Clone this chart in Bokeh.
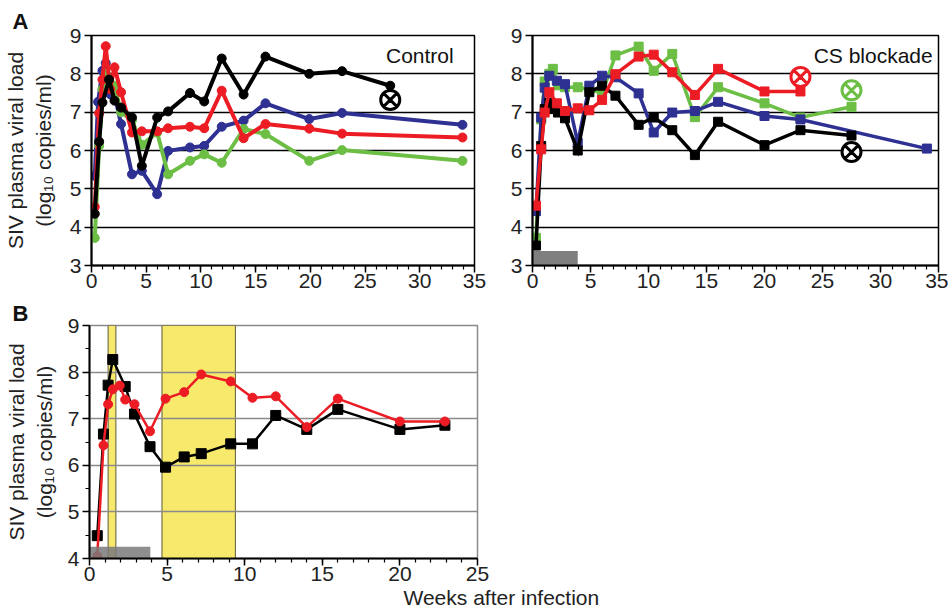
import numpy as np
from bokeh.plotting import figure
from bokeh.layouts import column, row
from bokeh.models import FixedTicker, Label, Range1d, Title
from bokeh.embed import file_html
from bokeh.resources import INLINE

FONT = "Liberation Sans"
RED = "#ec1c24"
BLUE = "#2e3192"
GREEN = "#6cbe45"
BLACK = "#000000"

# ---------------- Panel A, Control (weeks, log10 copies/ml) ----------------
ctrl_black_x = [0.3, 0.7, 1.0, 1.6, 2.1, 2.7, 3.7, 4.6, 6.0, 7.0, 9.0, 10.3, 11.9, 13.9, 15.9, 19.9, 22.9, 27.3]
ctrl_black_y = [4.35, 6.23, 7.25, 7.85, 7.3, 7.12, 6.86, 5.6, 6.86, 7.02, 7.5, 7.28, 8.4, 7.46, 8.45, 8.0, 8.07, 7.69]
ctrl_red_x = [0.3, 0.7, 1.0, 1.3, 1.7, 2.1, 2.7, 3.7, 4.6, 6.0, 7.0, 9.0, 10.3, 11.9, 13.9, 15.9, 19.9, 22.9, 33.9]
ctrl_red_y = [4.53, 6.97, 7.85, 8.72, 7.6, 8.17, 7.52, 6.47, 6.5, 6.5, 6.58, 6.62, 6.58, 7.56, 6.32, 6.69, 6.57, 6.44, 6.34]
ctrl_blue_x = [0.3, 0.6, 1.0, 1.3, 1.7, 2.1, 2.7, 3.7, 4.6, 6.0, 7.0, 9.0, 10.3, 11.9, 13.9, 15.9, 19.9, 22.9, 33.9]
ctrl_blue_y = [5.34, 7.27, 8.08, 8.28, 7.47, 7.46, 6.69, 5.38, 5.47, 4.86, 5.99, 6.08, 6.12, 6.62, 6.78, 7.23, 6.82, 6.98, 6.67]
ctrl_green_x = [0.3, 0.7, 1.0, 1.3, 1.7, 2.1, 2.7, 3.7, 4.6, 6.0, 7.0, 9.0, 10.3, 11.9, 13.9, 15.9, 19.9, 22.9, 33.9]
ctrl_green_y = [3.72, 6.12, 7.6, 8.01, 7.74, 7.69, 7.0, 6.79, 6.15, 6.47, 5.38, 5.73, 5.9, 5.68, 6.56, 6.43, 5.73, 6.01, 5.73]
ctrl_end_x = [27.3]
ctrl_end_y = [7.32]

# ---------------- Panel A, CS blockade ----------------
cs_black_x = [0.3, 0.75, 1.05, 1.45, 1.75, 2.2, 2.8, 3.9, 4.9, 6.0, 7.15, 9.15, 10.45, 12.05, 14.0, 16.0, 20.0, 23.1, 27.5]
cs_black_y = [3.52, 6.12, 7.08, 7.25, 7.08, 6.99, 6.84, 6.0, 7.52, 7.69, 7.43, 6.67, 6.86, 6.53, 5.88, 6.75, 6.14, 6.53, 6.39]
cs_red_x = [0.3, 0.75, 1.05, 1.45, 2.1, 2.8, 3.9, 4.9, 6.0, 7.15, 9.15, 10.45, 12.05, 14.0, 16.0, 20.0, 23.1]
cs_red_y = [4.56, 6.03, 6.99, 7.52, 7.23, 7.03, 7.1, 7.05, 7.32, 7.99, 8.45, 8.5, 8.04, 7.45, 8.13, 7.54, 7.54]
cs_blue_x = [0.3, 0.75, 1.05, 1.45, 2.1, 2.8, 3.9, 4.9, 6.0, 7.15, 9.15, 10.45, 12.05, 14.0, 16.0, 20.0, 23.1, 34.0]
cs_blue_y = [4.42, 6.86, 7.64, 7.95, 7.82, 7.73, 6.2, 7.69, 7.95, 7.91, 7.49, 6.47, 6.99, 7.03, 7.27, 6.9, 6.81, 6.05]
cs_green_x = [0.3, 0.75, 1.05, 1.45, 1.75, 2.2, 2.8, 3.9, 4.9, 6.0, 7.15, 9.15, 10.45, 12.05, 14.0, 16.0, 20.0, 23.1, 27.5]
cs_green_y = [3.72, 6.81, 7.8, 8.0, 8.13, 7.7, 7.65, 7.65, 7.6, 7.49, 8.48, 8.71, 8.08, 8.52, 6.87, 7.65, 7.23, 6.86, 7.14]
cs_end_x = [23.1, 27.5, 27.5]
cs_end_y = [7.92, 7.57, 5.96]
cs_end_colors = [RED, GREEN, BLACK]
cs_treat_start = [0.0]
cs_treat_end = [3.9]

# ---------------- Panel B ----------------
b_black_x = [0.5, 0.9, 1.2, 1.5, 2.3, 2.9, 3.9, 4.9, 6.1, 7.2, 9.1, 10.5, 12.0, 14.0, 16.0, 20.0, 22.9]
b_black_y = [4.49, 6.67, 7.72, 8.27, 7.69, 7.1, 6.4, 5.96, 6.18, 6.25, 6.46, 6.46, 7.07, 6.77, 7.2, 6.77, 6.86]
b_red_x = [0.5, 0.9, 1.2, 1.5, 1.95, 2.3, 2.9, 3.9, 4.9, 6.1, 7.2, 9.1, 10.5, 12.0, 14.0, 16.0, 20.0, 22.9]
b_red_y = [4.05, 6.43, 7.31, 7.63, 7.71, 7.41, 7.31, 6.73, 7.43, 7.57, 7.95, 7.8, 7.45, 7.48, 6.82, 7.43, 6.94, 6.94]
b_band_start = [1.2, 4.67]
b_band_end = [1.7, 9.4]
b_treat_start = [0.0]
b_treat_end = [3.92]

a_xticks = [0, 5, 10, 15, 20, 25, 30, 35]
a_yticks = [3, 4, 5, 6, 7, 8, 9]
b_xticks = [0, 5, 10, 15, 20, 25]
b_yticks = [4, 5, 6, 7, 8, 9]

YLABEL = "SIV plasma viral load\n(log\u2081\u2080 copies/ml)"


def style(p, xticks, xminor, yticks, yminor, grid_ticks, grid_color, outline_color):
    p.xaxis.ticker = FixedTicker(ticks=xticks, minor_ticks=xminor)
    p.yaxis.ticker = FixedTicker(ticks=yticks, minor_ticks=yminor)
    for ax in (p.xaxis[0], p.yaxis[0]):
        ax.axis_line_width = 2
        ax.axis_line_color = "black"
        ax.major_tick_line_width = 1.5
        ax.major_tick_line_color = "black"
        ax.major_tick_out = 7
        ax.major_tick_in = 0
        ax.minor_tick_out = 4
        ax.minor_tick_in = 0
        ax.minor_tick_line_width = 1.2
        ax.minor_tick_line_color = "black"
        ax.major_label_text_font = FONT
        ax.major_label_text_font_size = "21px"
        ax.major_label_text_color = "#222222"
        ax.axis_label_text_font = FONT
        ax.axis_label_text_font_size = "21px"
        ax.axis_label_text_font_style = "normal"
        ax.axis_label_text_color = "#222222"
    p.xaxis.major_label_standoff = 1
    p.yaxis.major_label_standoff = 3
    p.xgrid.visible = False
    p.ygrid.ticker = FixedTicker(ticks=grid_ticks)
    p.ygrid.grid_line_color = grid_color
    p.ygrid.grid_line_width = 1.5
    p.outline_line_color = outline_color
    p.outline_line_width = 1.5
    p.background_fill_color = "white"
    p.border_fill_color = "white"


def panel_letter(p, letter, offset, standoff):
    p.title.text = letter
    p.title.align = "left"
    p.title.offset = offset
    p.title.standoff = standoff
    p.title.text_font = FONT
    p.title.text_font_size = "22px"
    p.title.text_font_style = "bold"
    p.title.text_color = "#111111"


# ---------------- Figure A left ----------------
p1 = figure(width=492, height=298, x_range=Range1d(0, 35), y_range=Range1d(3, 9),
            output_backend="svg", toolbar_location=None, title="A",
            min_border_left=91, min_border_right=18, min_border_top=35, min_border_bottom=33)
style(p1, a_xticks, list(range(1, 35)), a_yticks, [], [4, 5, 6, 7, 8], "black", "black")
panel_letter(p1, "A", -79, 4)
p1.yaxis.axis_label = YLABEL
p1.yaxis.axis_label_standoff = 12

for xs, ys, c in [(ctrl_blue_x, ctrl_blue_y, BLUE), (ctrl_green_x, ctrl_green_y, GREEN),
                  (ctrl_red_x, ctrl_red_y, RED), (ctrl_black_x, ctrl_black_y, BLACK)]:
    p1.line(xs, ys, line_color=c, line_width=4, line_join="round")
    p1.scatter(xs, ys, marker="circle", size=9, fill_color=c, line_color=c)
p1.scatter(ctrl_end_x, ctrl_end_y, marker="circle_x", size=19, line_width=3,
           line_color=BLACK, fill_color="white")
p1.add_layout(Label(x=33.1, y=8.48, text="Control", text_align="right", text_baseline="middle",
                    text_font=FONT, text_font_size="21px", text_color="#111111"))

# ---------------- Figure A right ----------------
p2 = figure(width=456, height=298, x_range=Range1d(0, 35), y_range=Range1d(3, 9),
            output_backend="svg", toolbar_location=None,
            min_border_left=40, min_border_right=10, min_border_top=35, min_border_bottom=33)
style(p2, a_xticks, list(range(1, 35)), a_yticks, [], [4, 5, 6, 7, 8], "black", "black")
p2.quad(left=cs_treat_start, right=cs_treat_end, bottom=[3], top=[3.38],
        fill_color="#7f7f7f", line_color=None)
for xs, ys, c in [(cs_green_x, cs_green_y, GREEN), (cs_blue_x, cs_blue_y, BLUE),
                  (cs_black_x, cs_black_y, BLACK), (cs_red_x, cs_red_y, RED)]:
    p2.line(xs, ys, line_color=c, line_width=3.5, line_join="miter")
    p2.scatter(xs, ys, marker="square", size=9, fill_color=c, line_color=c)
p2.scatter(cs_end_x, cs_end_y, marker="circle_x", size=19, line_width=3,
           line_color=cs_end_colors, fill_color="white")
p2.add_layout(Label(x=34.5, y=8.48, text="CS blockade", text_align="right", text_baseline="middle",
                    text_font=FONT, text_font_size="21px", text_color="#111111"))

# ---------------- Figure B ----------------
p3 = figure(width=620, height=317, x_range=Range1d(0, 25), y_range=Range1d(4, 9),
            output_backend="svg", toolbar_location=None, title="B",
            min_border_left=89, min_border_right=143, min_border_top=27, min_border_bottom=57)
style(p3, b_xticks, list(range(1, 25)), b_yticks, [4.5, 5.5, 6.5, 7.5, 8.5],
      [5, 6, 7, 8], "#8a8a8a", "#8a8a8a")
panel_letter(p3, "B", -77, 0)
p3.yaxis.axis_label = YLABEL
p3.yaxis.axis_label_standoff = 9
p3.quad(left=b_band_start, right=b_band_end, bottom=[4, 4], top=[9, 9],
        fill_color="#f6e96b", line_color="#5e5a3a", line_width=1, level="image")
p3.line(b_black_x, b_black_y, line_color=BLACK, line_width=2.5)
p3.scatter(b_black_x, b_black_y, marker="square", size=10, fill_color=BLACK, line_color=BLACK)
p3.line(b_red_x, b_red_y, line_color=RED, line_width=2.5)
p3.scatter(b_red_x, b_red_y, marker="circle", size=9, fill_color=RED, line_color=RED)
p3.quad(left=b_treat_start, right=b_treat_end, bottom=[4], top=[4.25],
        fill_color="#7a7a7a", fill_alpha=0.85, line_color=None)
p3.add_layout(Title(text="Weeks after infection", align="left", offset=314, standoff=0,
                    text_font=FONT, text_font_size="21px", text_font_style="normal",
                    text_color="#222222"), "below")

layout = column(row(p1, p2), p3)
open("out.html", "w").write(file_html(layout, INLINE))
